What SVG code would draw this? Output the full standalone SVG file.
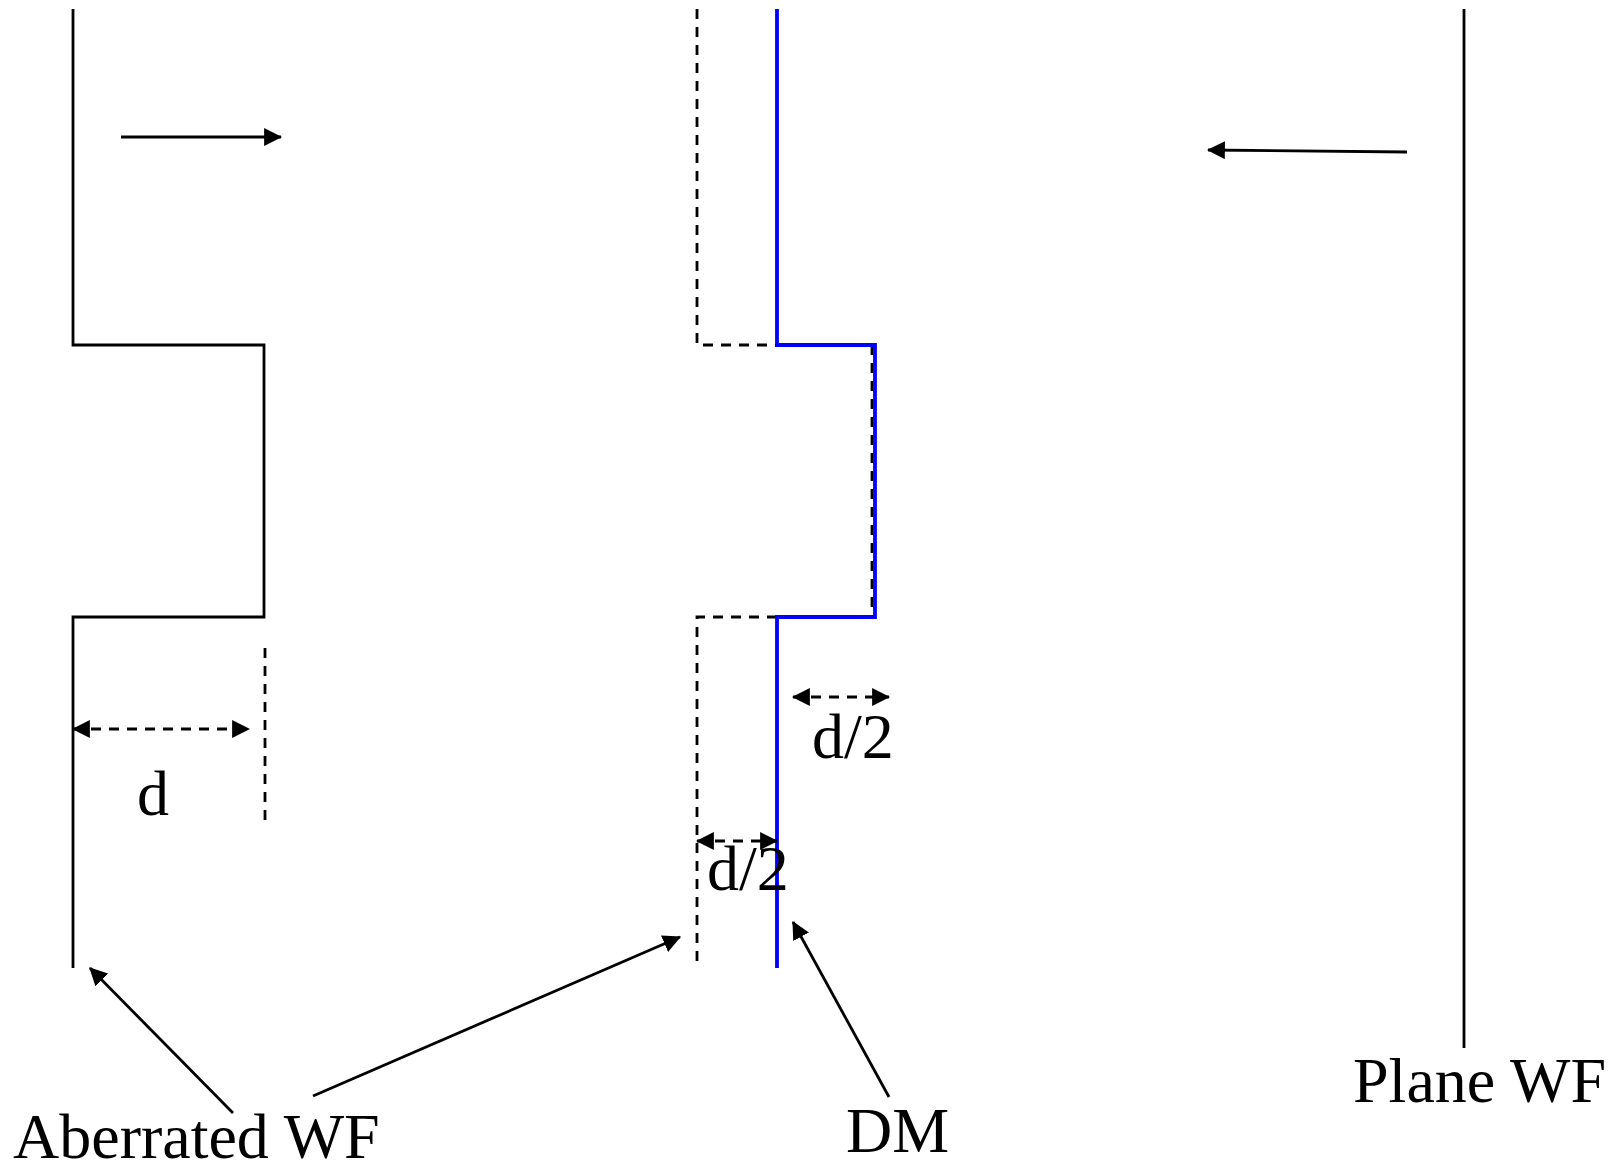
<svg xmlns="http://www.w3.org/2000/svg" width="1610" height="1168" viewBox="0 0 1610 1168">
<style>
.k{stroke:#000;stroke-width:2.8;fill:none}
.dash{stroke:#000;stroke-width:2.8;fill:none;stroke-dasharray:10 8}
.b{stroke:#0000ff;stroke-width:3.8;fill:none}
text{font-family:"Liberation Serif","Times New Roman",serif;font-size:64px;fill:#000}
</style>
<defs>
<marker id="ah" markerUnits="userSpaceOnUse" markerWidth="18" markerHeight="18" refX="15" refY="8" orient="auto-start-reverse" viewBox="0 0 16 16">
<path d="M0,0 L16,8 L0,16 Z" fill="#000"/>
</marker>
</defs>
<g id="aberrated-wf">
<path class="k" d="M73,9 V345 H264 V617 H73 V968"/>
<line class="dash" x1="265" y1="648" x2="265" y2="825"/>
</g>
<g id="shifted-wf">
<path class="dash" d="M697,9 V345 H777"/>
<path class="dash" d="M872,345 V617"/>
<path class="dash" d="M777,617 H697 V963"/>
</g>
<g id="dm">
<path class="b" d="M777,9 V345 H875 V617 H777 V968"/>
</g>
<g id="plane-wf">
<line class="k" x1="1464" y1="9" x2="1464" y2="1048"/>
</g>
<g id="connectors">
<line class="k" x1="121" y1="137" x2="281" y2="137" marker-end="url(#ah)"/>
<line class="k" x1="1407" y1="152" x2="1208" y2="150" marker-end="url(#ah)"/>
<line class="dash" x1="73" y1="729" x2="249" y2="729" marker-start="url(#ah)" marker-end="url(#ah)"/>
<line class="dash" x1="793" y1="697" x2="889" y2="697" marker-start="url(#ah)" marker-end="url(#ah)"/>
<line class="dash" x1="697" y1="841" x2="777" y2="841" marker-start="url(#ah)" marker-end="url(#ah)"/>
<line class="k" x1="233" y1="1113" x2="90" y2="968" marker-end="url(#ah)"/>
<line class="k" x1="313" y1="1096" x2="680" y2="937" marker-end="url(#ah)"/>
<line class="k" x1="889" y1="1097" x2="793" y2="922" marker-end="url(#ah)"/>
</g>
<g id="labels">
<text x="153" y="815" text-anchor="middle">d</text>
<text x="812" y="758">d/2</text>
<text x="707" y="890">d/2</text>
<text x="13" y="1158">Aberrated WF</text>
<text x="846" y="1152">DM</text>
<text x="1353" y="1102">Plane WF</text>
</g>
</svg>
